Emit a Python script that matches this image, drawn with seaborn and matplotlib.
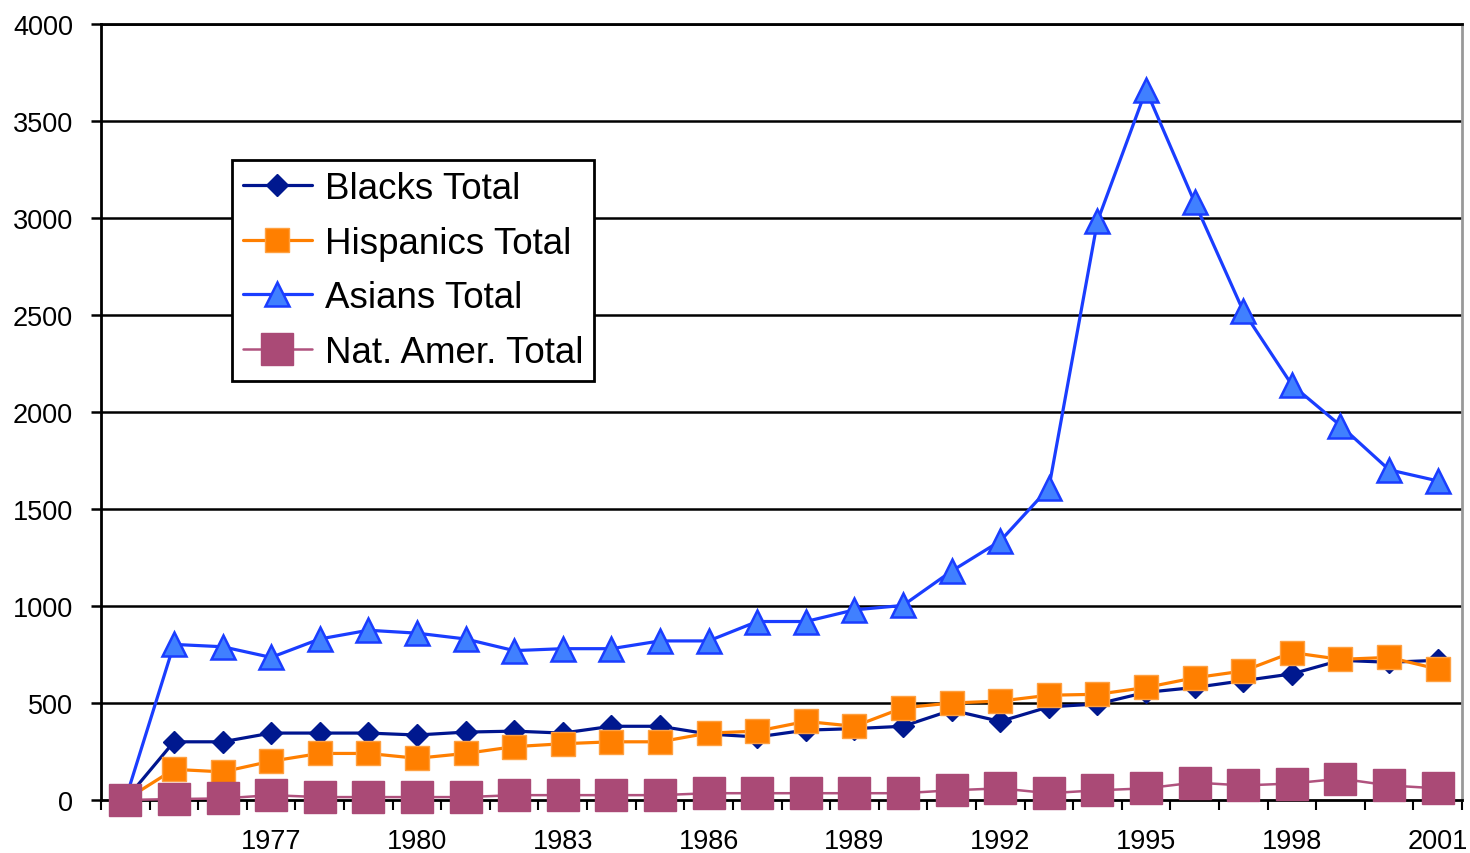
import numpy as np
import pandas as pd
import matplotlib
matplotlib.use("Agg")
import matplotlib.pyplot as plt
from matplotlib.ticker import FixedLocator
import seaborn as sns

years = list(range(1974, 2002))

blacks = [0, 300, 300, 345, 345, 345, 335, 350, 355, 345, 380, 380, 340, 325,
          360, 368, 380, 463, 405, 480, 495, 555, 580, 615, 650, 720, 710, 720]
hispanics = [0, 158, 145, 200, 240, 240, 215, 240, 275, 290, 300, 300, 345, 355,
             405, 380, 475, 500, 510, 540, 545, 580, 630, 665, 760, 725, 735, 675]
asians = [0, 802, 790, 735, 830, 875, 860, 830, 770, 780, 780, 820, 820, 920,
          920, 980, 1003, 1180, 1335, 1608, 2983, 3660, 3080, 2520, 2140, 1930, 1702, 1645]
nat_amer = [0, 5, 8, 25, 15, 15, 15, 15, 25, 25, 25, 25, 35, 35,
            35, 35, 35, 50, 60, 35, 50, 60, 90, 75, 85, 110, 75, 60]

series_names = ["Blacks Total", "Hispanics Total", "Asians Total", "Nat. Amer. Total"]
tick_years = [1977, 1980, 1983, 1986, 1989, 1992, 1995, 1998, 2001]

df = pd.DataFrame({
    "idx": np.arange(len(years)),
    "Blacks Total": blacks,
    "Hispanics Total": hispanics,
    "Asians Total": asians,
    "Nat. Amer. Total": nat_amer,
})

sns.set_theme(style="white")
plt.rcParams["font.family"] = ["Liberation Sans", "DejaVu Sans"]
plt.rcParams["text.color"] = "black"

fig = plt.figure(figsize=(14.7, 8.54), dpi=100)
ax = fig.add_axes([101 / 1470, 53 / 854, 1361 / 1470, 776 / 854])

styles = {
    "Blacks Total": dict(color="#00158f", marker="D", markersize=11.5,
                         markerfacecolor="#00188f", markeredgecolor="#00188f",
                         markeredgewidth=1, linewidth=2.3),
    "Hispanics Total": dict(color="#ff7f00", marker="s", markersize=17,
                            markerfacecolor="#ff7f00", markeredgecolor="#ffa040",
                            markeredgewidth=1, linewidth=2.3),
    "Asians Total": dict(color="#1a3dff", marker="^", markersize=17,
                         markerfacecolor="#4080ff", markeredgecolor="#1a3dff",
                         markeredgewidth=1.8, linewidth=2.3),
    "Nat. Amer. Total": dict(color="#b0527e", marker="s", markersize=22.5,
                             markerfacecolor="#aa4a76", markeredgecolor="#aa4a76",
                             markeredgewidth=1, linewidth=1.8),
}

for name in series_names:
    sns.lineplot(data=df, x="idx", y=name, ax=ax, label=name,
                 clip_on=False, zorder=3, **styles[name])

ax.set_xlim(-0.5, len(years) - 0.5)
ax.set_ylim(0, 4000)
ax.set_yticks(np.arange(0, 4001, 500))
ax.set_yticklabels([str(v) for v in range(0, 4001, 500)], fontsize=19.5)

label_pos = [years.index(y) for y in tick_years]
ax.set_xticks(label_pos)
ax.set_xticklabels([str(y) for y in tick_years], fontsize=19.5)
ax.xaxis.set_minor_locator(FixedLocator(np.arange(-0.5, len(years), 1.0)))
ax.tick_params(axis="x", which="major", length=0, pad=20, colors="black")
ax.tick_params(axis="x", which="minor", length=7, width=1.5, direction="out",
               bottom=True, color="black")
ax.tick_params(axis="y", which="major", length=7, width=1.8, direction="out",
               left=True, pad=13, colors="black")

ax.set_xlabel("")
ax.set_ylabel("")

for y in range(500, 4001, 500):
    ax.axhline(y, color="black", linewidth=1.8, zorder=1)

for side in ["left", "bottom", "top"]:
    ax.spines[side].set_color("black")
    ax.spines[side].set_linewidth(2)
ax.spines["right"].set_color("#999999")
ax.spines["right"].set_linewidth(2)

leg = ax.legend(loc="upper left", bbox_to_anchor=(0.0963, 0.8245),
                fontsize=26.5, frameon=True, fancybox=False, shadow=False,
                borderaxespad=0, handlelength=1.86, handletextpad=0.36,
                labelspacing=0.53, borderpad=0.3, framealpha=1,
                labelcolor="black")
leg.get_frame().set_edgecolor("black")
leg.get_frame().set_linewidth(2)
leg.set_zorder(5)

fig.savefig("out.png", dpi=100)
